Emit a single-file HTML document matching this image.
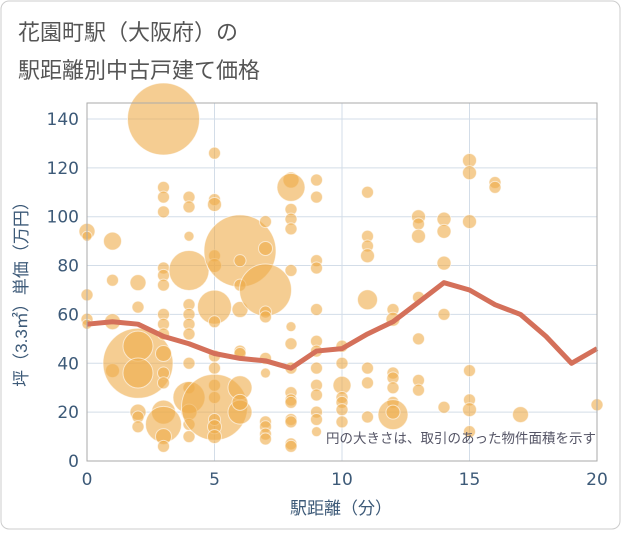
<!DOCTYPE html>
<html><head><meta charset="utf-8"><style>
body{margin:0;background:#fff}
svg text{font-family:"Liberation Sans","Noto Sans CJK JP",sans-serif}
svg text.tick{font-family:"DejaVu Sans","Liberation Sans",sans-serif}
</style></head><body>
<svg width="621" height="530" xmlns="http://www.w3.org/2000/svg">
<rect x="1" y="1" width="619" height="528" rx="8" fill="#fff" stroke="#ccc"/>
<text x="18" y="40" font-size="22" fill="#555">花園町駅（大阪府）の</text>
<text x="18" y="78" font-size="22" fill="#555">駅距離別中古戸建て価格</text>
<g id="grid"></g>
<g id="bubbles"></g>
<g id="lineg"></g>
<rect x="87" y="103" width="510" height="358" fill="none" stroke="#aaa"/>
<g id="axes"></g>
<text x="596" y="443" font-size="13.5" fill="#556" text-anchor="end">円の大きさは、取引のあった物件面積を示す</text>
<text x="341" y="514" font-size="17" fill="#3d5a78" text-anchor="middle">駅距離（分）</text>
<text transform="translate(27,290) rotate(-90)" font-size="17" fill="#3d5a78" text-anchor="middle">坪（3.3㎡）単価（万円）</text>
</svg>
<script>
const xTicks=[0,5,10,15,20];
const yTicks=[0,20,40,60,80,100,120,140];
const lineX=[0,1,2,3,4,5,6,7,8,9,10,11,12,13,14,15,16,17,18,19,20];
const lineY=[56,57,56,51,48,44,42,41,38,45,46,52,57,65,73,70,64,60,51,40,46];
const bx=[0,0,0,0,0,1,1,1,1,2,2,2,2,2,2,2,2,3,3,3,3,3,3,3,3,3,3,3,3,3,3,3,3,3,4,4,4,4,4,4,4,4,4,4,4,4,4,4,5,5,5,5,5,5,5,5,5,5,5,5,5,5,5,6,6,6,6,6,6,6,6,6,7,7,7,7,7,7,7,7,7,7,7,8,8,8,8,8,8,8,8,8,8,8,8,8,8,8,8,9,9,9,9,9,9,9,9,9,9,9,9,9,10,10,10,10,10,10,10,11,11,11,11,11,11,11,11,12,12,12,12,12,12,12,12,13,13,13,13,13,13,13,14,14,14,14,14,15,15,15,15,15,15,15,16,16,17,20];
const by=[94,92,68,58,56,90,74,57,37,73,63,40,47,36,20,18,14,140,112,108,102,79,76,72,60,56,52,44,36,32,20,15,10,6,108,104,92,78,64,60,56,52,40,30,26,20,15,10,126,107,105,84,80,63,57,43,38,31,26,22,17,14,10,86,82,72,62,45,44,30,20,24,98,87,70,61,59,42,36,16,14,11,9,115,112,103,99,95,78,55,48,38,28,25,24,17,16,7,6,115,108,82,79,62,49,45,38,31,27,20,17,12,47,40,31,26,24,21,16,110,92,88,84,66,38,32,18,62,58,36,34,30,24,19,20,100,97,92,67,50,33,29,99,94,81,60,22,123,118,98,37,25,21,12,114,112,19,23];
const bs=[8,5,6,6,5,9,6,8,7,8,6,35,15,15,8,6,6,36,6,6,6,6,6,6,6,6,6,8,6,6,12,18,8,6,6,6,5,20,6,6,6,6,6,6,16,8,6,6,6,6,7,6,7,17,6,6,6,6,6,33,6,7,7,36,6,6,8,6,6,12,12,8,6,7,26,6,6,6,5,6,6,6,6,8,14,6,6,6,6,5,6,6,6,6,6,6,6,6,6,6,6,6,6,6,6,6,6,6,6,6,6,5,6,6,9,6,6,6,6,6,6,6,7,10,6,6,6,6,7,6,6,6,6,15,7,7,6,7,6,6,6,6,7,7,7,6,6,7,7,7,6,6,7,6,6,6,8,6];
const X=v=>87+v*25.5, Y=v=>461-v*2.443;
const NS="http://www.w3.org/2000/svg";
const grid=document.getElementById('grid'),axes=document.getElementById('axes');
yTicks.forEach(t=>{
 const l=document.createElementNS(NS,'line');
 
 
 l.setAttribute('x1',87);l.setAttribute('x2',597);l.setAttribute('y1',Y(t));l.setAttribute('y2',Y(t));l.setAttribute('stroke','#d3dde8');
 grid.appendChild(l);
 const tx=document.createElementNS(NS,'text');
 
 
 tx.setAttribute('class','tick');
 tx.setAttribute('x',79);tx.setAttribute('y',Y(t)+6);tx.setAttribute('text-anchor','end');tx.setAttribute('font-size','17');tx.setAttribute('fill','#3d5a78');
 tx.textContent=t;axes.appendChild(tx);
});
xTicks.forEach(t=>{
 const l=document.createElementNS(NS,'line');
 
 
 l.setAttribute('y1',103);l.setAttribute('y2',461);l.setAttribute('x1',X(t));l.setAttribute('x2',X(t));l.setAttribute('stroke','#d3dde8');
 grid.appendChild(l);
 const tx=document.createElementNS(NS,'text');
 
 
 tx.setAttribute('class','tick');
 tx.setAttribute('x',X(t));tx.setAttribute('y',485);tx.setAttribute('text-anchor','middle');tx.setAttribute('font-size','17');tx.setAttribute('fill','#3d5a78');
 tx.textContent=t;axes.appendChild(tx);
});
const bg=document.getElementById('bubbles');
bx.forEach((v,i)=>{
 const c=document.createElementNS(NS,'circle');
 
 
 c.setAttribute('cx',X(v));c.setAttribute('cy',Y(by[i]));c.setAttribute('r',bs[i]);
 c.setAttribute('fill','rgb(238,172,74)');c.setAttribute('fill-opacity','0.6');c.setAttribute('stroke','#fff');c.setAttribute('stroke-opacity','0.6');
 bg.appendChild(c);
});
const p=document.createElementNS(NS,'polyline');


p.setAttribute('points',lineX.map((v,i)=>X(v)+','+Y(lineY[i])).join(' '));
p.setAttribute('fill','none');p.setAttribute('stroke','#d4705a');p.setAttribute('stroke-width','5');p.setAttribute('stroke-linejoin','round');
document.getElementById('lineg').appendChild(p);
</script>
</body></html>
